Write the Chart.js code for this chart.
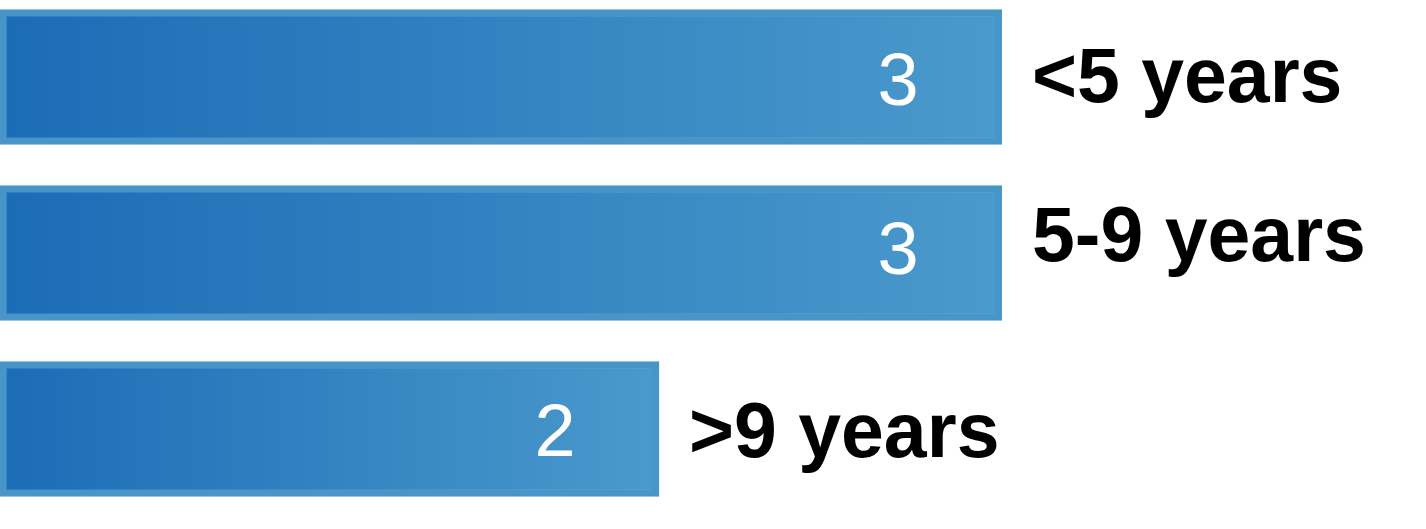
<!DOCTYPE html>
<html>
<head>
<meta charset="utf-8">
<script src="https://cdn.jsdelivr.net/npm/chart.js@4/dist/chart.umd.min.js"></script>
<style>
  html, body { margin: 0; padding: 0; background: #ffffff; }
  #frame { position: relative; width: 1426px; height: 529px; overflow: hidden; }
  #holder { position: absolute; left: 0; top: -11px; width: 1426px; height: 528px; }
</style>
</head>
<body>
<div id="frame"><div id="holder"><canvas id="yearsChart"></canvas></div></div>
<script>
// categories and values
var categories = ['<5 years', '5-9 years', '>9 years'];
var counts = [3, 3, 2];

// value axis range (left edge of the bars sits a little above zero)
var xMin = 0.0786;
var xMax = 3;

var fillLeft = '#1b6cb6';
var fillRight = '#4a9acc';
var edgeColor = '#4896c9';

// text baseline below the bar centre, per row (the original is not even)
var valueDrop = [28, 21, 27];
var nameDrop = [25, 8, 28];

// gradient per bar, from the left edge to the end of that bar
function barFill(context) {
    var chart = context.chart;
    var area = chart.chartArea;
    if (!area || !chart.scales.x) {
        return fillRight;
    }
    var end = chart.scales.x.getPixelForValue(counts[context.dataIndex]);
    var g = chart.ctx.createLinearGradient(area.left, 0, end, 0);
    g.addColorStop(0, fillLeft);
    g.addColorStop(1, fillRight);
    return g;
}

// value inside the bar, category name to the right of it
var barLabels = {
    id: 'barLabels',
    afterDatasetsDraw: function(chart) {
        var ctx = chart.ctx;
        var meta = chart.getDatasetMeta(0);
        ctx.save();
        for (var i = 0; i < meta.data.length; i++) {
            var bar = meta.data[i];
            ctx.fillStyle = '#ffffff';
            ctx.font = '74px "Liberation Sans", Arial, sans-serif';
            ctx.textAlign = 'center';
            ctx.textBaseline = 'alphabetic';
            ctx.fillText(String(counts[i]), bar.x - 104, bar.y + valueDrop[i]);

            ctx.fillStyle = '#000000';
            ctx.font = 'bold 77px "Liberation Sans", Arial, sans-serif';
            ctx.textAlign = 'left';
            ctx.fillText(categories[i], bar.x + 30, bar.y + nameDrop[i]);
        }
        ctx.restore();
    }
};

var yearsChart = new Chart(document.getElementById('yearsChart').getContext('2d'), {
    type: 'bar',
    data: {
        labels: categories,
        datasets: [{
            data: counts,
            base: xMin,
            backgroundColor: barFill,
            borderColor: edgeColor,
            borderWidth: 7,
            borderSkipped: false,
            barThickness: 135
        }]
    },
    options: {
        indexAxis: 'y',
        responsive: true,
        maintainAspectRatio: false,
        animation: false,
        layout: { padding: { left: 0, right: 424, top: 0, bottom: 0 } },
        plugins: {
            legend: { display: false },
            tooltip: { enabled: false }
        },
        scales: {
            x: { display: false, min: xMin, max: xMax },
            y: { display: false, offset: true }
        }
    },
    plugins: [barLabels]
});
</script>
</body>
</html>
